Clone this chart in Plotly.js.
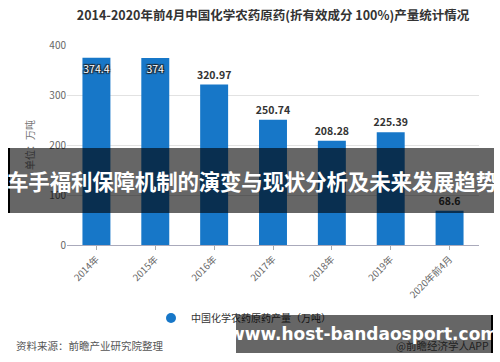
<!DOCTYPE html>
<html><head><meta charset="utf-8">
<script src="https://cdn.plot.ly/plotly-3.0.1.min.js"></script>
<style>
html,body{margin:0;padding:0;background:#fff;}
#wrap{position:relative;width:500px;height:362px;overflow:hidden;}
#chart{position:absolute;left:0;top:0;width:500px;height:362px;}
.band{position:absolute;background:rgba(0,0,0,0.6);color:#fff;font-family:"Noto Sans CJK SC","Noto Sans",sans-serif;font-weight:bold;white-space:nowrap;display:flex;align-items:center;justify-content:center;}
</style></head>
<body><div id="wrap"><div id="chart"></div>
<div class="band" style="left:8px;top:148px;width:484px;height:65px;border-left:2px solid #000;font-size:21.5px;letter-spacing:-0.2px;">车手福利保障机制的演变与现状分析及未来发展趋势</div>
<div class="band" style="left:236px;top:315px;width:255px;height:38px;border-right:2px solid #000;font-size:17px;font-family:'DejaVu Sans','Noto Sans',sans-serif;">www.host-bandaosport.com</div>
</div>
<script>
const categories = ['2014年','2015年','2016年','2017年','2018年','2019年','2020年前4月'];
const values = [374.4, 374, 320.97, 250.74, 208.28, 225.39, 68.6];
const labels = ['374.4','374','320.97','250.74','208.28','225.39','68.6'];
const seriesName = '中国化学农药原药产量（万吨）';
const titleText = '2014-2020年前4月中国化学农药原药(折有效成分 100%)产量统计情况';
const yTicks = [0,100,200,300,400];

const FONT = '"Noto Sans CJK SC","Noto Sans",sans-serif';
const barColor = '#1777c8';

const data = [
  {type:'bar', x:categories, y:values, text:labels,
   textposition: values.map(v => v > 360 ? 'inside' : 'outside'),
   textangle:0,
   insidetextanchor:'end', constraintext:'none', cliponaxis:false,
   textfont:{family:FONT, size:10.5, color:'#333'},
   insidetextfont:{family:FONT, size:10.5, color:'#fff', shadow:'1px 1px 1px #222, -1px -1px 1px #222, 1px -1px 1px #222, -1px 1px 1px #222'},
   outsidetextfont:{family:FONT, size:10.5, color:'#333', weight:'bold'},
   marker:{color:barColor}, width:0.475, showlegend:false, hoverinfo:'none'},
  {type:'scatter', mode:'markers', x:[null], y:[null], name:seriesName,
   marker:{symbol:'circle', size:10, color:barColor}, showlegend:true}
];

const layout = {
  width:500, height:362,
  margin:{l:67, r:21, t:45, b:117},
  paper_bgcolor:'#fff', plot_bgcolor:'#fff',
  font:{family:FONT, color:'#555'},
  title:{text:titleText, font:{family:FONT, size:12.5, color:'#333', weight:'bold'},
         x:0.5, xanchor:'center', xref:'paper', y:1-16/362, yanchor:'middle'},
  xaxis:{type:'category', range:[-0.5,6.5], tickangle:-45, ticks:'outside', ticklen:4,
         tickcolor:'#aaa', showline:true, linecolor:'#aab', linewidth:1,
         showgrid:false, tickfont:{family:FONT, size:9.5, color:'#666'}},
  yaxis:{range:[0,400], tickvals:yTicks, showgrid:true, gridcolor:'#e2e2e2',
         zeroline:false, showline:false, ticks:'', tickfont:{family:FONT, size:10, color:'#666'},
         title:{text:'单位：万吨', font:{family:FONT, size:10, color:'#777'}, standoff:12}},
  legend:{orientation:'h', xref:'container', yref:'container', x:0.487, xanchor:'center',
          y:1-318/362, yanchor:'middle', font:{family:FONT, size:10, color:'#333'}},
  annotations:[
    {text:'资料来源：前瞻产业研究院整理', xref:'paper', yref:'paper', showarrow:false,
     x:(14-67)/412, xanchor:'left', y:(245-345)/200, yanchor:'middle',
     font:{family:FONT, size:10.5, color:'#555'}},
    {text:'@前瞻经济学人APP', xref:'paper', yref:'paper', showarrow:false,
     x:(491-67)/412, xanchor:'right', y:(245-345)/200, yanchor:'middle',
     font:{family:FONT, size:10.5, color:'#555'}}
  ],
  showlegend:true
};
Plotly.newPlot('chart', data, layout, {displayModeBar:false, staticPlot:true});
</script></body></html>
